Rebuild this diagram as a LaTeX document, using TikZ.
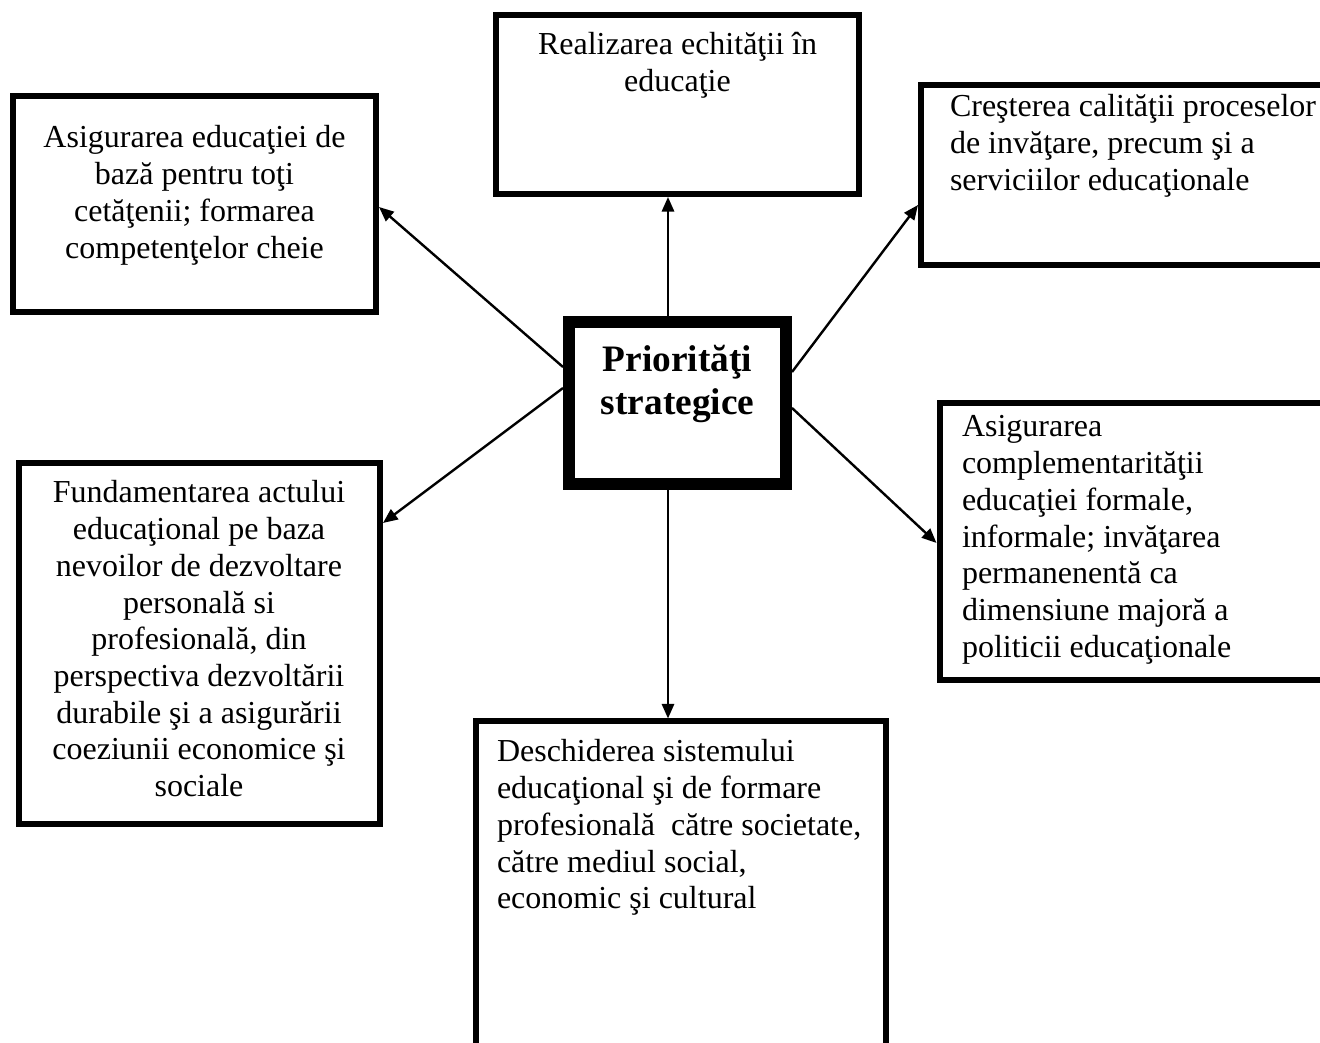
\documentclass[tikz,border=0pt]{standalone}
\usepackage{fontspec}
\setmainfont{Liberation Serif}
\usetikzlibrary{arrows.meta,fit}
\tikzset{
  box/.style={draw=black, line width=2.25pt, inner sep=0pt, fill=white},
  thickbox/.style={draw=black, line width=4.5pt, inner sep=0pt, fill=white},
  txt/.style={inner sep=0pt, outer sep=0pt, font=\fontsize{12}{13.76}\selectfont},
  arr/.style={draw=black, line width=0.9pt, -{Triangle[length=5.5pt,width=4.6pt]}},
}
\newcommand{\ctext}[2]{\parbox[t]{#1}{\centering #2}}
\newcommand{\ltext}[2]{\parbox[t]{#1}{\raggedright #2}}
\begin{document}
\begin{tikzpicture}[x=0.375pt, y=-0.375pt]
\useasboundingbox (0,0) rectangle (1320,1043);
\clip (0,0) rectangle (1320,1043);
% boxes
\node[box, fit={(496,15) (859,194)}] (top) {};
\node[box, fit={(13,96) (376,312)}] (tl) {};
\node[box, fit={(921,85) (1340,265)}] (tr) {};
\node[box, fit={(939.5,403) (1340,680)}] (rt) {};
\node[box, fit={(18.5,463.5) (380,823.5)}] (lf) {};
\node[box, fit={(476,721.5) (885.5,1070)}] (bt) {};
\node[thickbox, fit={(569,322) (786,484)}] (c) {};
% texts
\node[txt, anchor=base] (topT) at (677.5,55) {\ctext{150pt}{Realizarea echităţii în\\educaţie}};
\node[txt, anchor=base] (tlT) at (194.5,148) {\ctext{150pt}{Asigurarea educaţiei de\\bază pentru toţi\\cetăţenii; formarea\\competenţelor cheie}};
\node[txt, anchor=base west] (trT) at (950,117) {\ltext{150pt}{Creşterea calităţii proceselor\\de invăţare, precum şi a\\serviciilor educaţionale}};
\node[txt, anchor=base west] (rtT) at (962,437) {\ltext{140pt}{Asigurarea\\complementarităţii\\educaţiei formale,\\informale; invăţarea\\permanenentă ca\\dimensiune majoră a\\politicii educaţionale}};
\node[txt, anchor=base] (lfT) at (199,503) {\ctext{150pt}{Fundamentarea actului\\educaţional pe baza\\nevoilor de dezvoltare\\personală si\\profesională, din\\perspectiva dezvoltării\\durabile şi a asigurării\\coeziunii economice şi\\sociale}};
\node[txt, anchor=base west] (btT) at (497,762) {\ltext{150pt}{Deschiderea sistemului\\educaţional şi de formare\\profesională\ \ către societate,\\către mediul social,\\economic şi cultural}};
\node[txt, anchor=base, font=\fontsize{14}{16.1}\selectfont\bfseries] (cT) at (677.5,372) {\ctext{100pt}{Priorităţi\\strategice}};
% connectors
\draw[arr] (c.north -| 668,0) -- (top.south -| 668,0);
\draw[arr] (c.west |- 0,367) -- (tl.east |- 0,207);
\draw[arr] (c.west |- 0,388) -- (lf.east |- 0,523);
\draw[arr] (c.east |- 0,372) -- (tr.west |- 0,205);
\draw[arr] (c.east |- 0,408) -- (rt.west |- 0,543);
\draw[arr] (c.south -| 668,0) -- (bt.north -| 668,0);
\end{tikzpicture}
\end{document}
